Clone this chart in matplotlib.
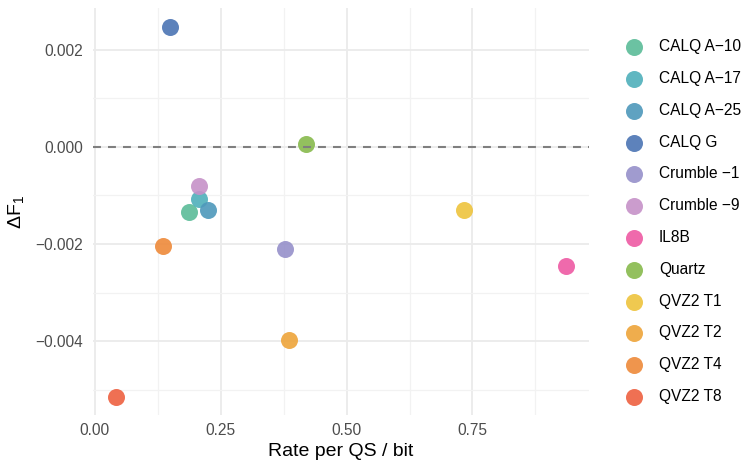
import matplotlib
matplotlib.use("Agg")
import matplotlib.pyplot as plt
from matplotlib.ticker import MultipleLocator, FuncFormatter

plt.rcParams['font.family'] = ['Liberation Sans', 'DejaVu Sans']
plt.rcParams['mathtext.fontset'] = 'custom'
plt.rcParams['mathtext.rm'] = 'Liberation Sans'
plt.rcParams['mathtext.it'] = 'Liberation Sans'

# codec variants, rate per quality score and change in F1
codecs = ['CALQ A\u221210', 'CALQ A\u221217', 'CALQ A\u221225', 'CALQ G',
          'Crumble \u22121', 'Crumble \u22129', 'IL8B', 'Quartz',
          'QVZ2 T1', 'QVZ2 T2', 'QVZ2 T4', 'QVZ2 T8']
rate = [0.186, 0.206, 0.225, 0.149, 0.378, 0.207, 0.936, 0.419,
        0.733, 0.385, 0.135, 0.041]
delta_f1 = [-0.00134, -0.00107, -0.00130, 0.00247, -0.00210, -0.00080,
            -0.00245, 0.00006, -0.00130, -0.00397, -0.00204, -0.00514]
colors = ['#5BBC98', '#4FB0BB', '#4E98BB', '#4B74B4', '#9690CA', '#C691C8',
          '#EE5AA3', '#87BA4C', '#EEC33D', '#EEA43A', '#EE8A3A', '#EE6040']

fig = plt.figure(figsize=(7.49, 4.65), dpi=100)
ax = fig.add_axes([0.124, 0.1075, 0.662, 0.8745])

for name, x, y, c in zip(codecs, rate, delta_f1, colors):
    ax.scatter(x, y, s=150, color=c, alpha=0.9, linewidths=0, label=name, zorder=3)

# reference line at zero, drawn over the points
ax.axhline(0, color='#7F7F7F', lw=1.5, dashes=(3.8, 3.4), zorder=4)

ax.set_xlim(-0.004, 0.981)
ax.set_ylim(-0.00552, 0.00285)

ax.xaxis.set_major_locator(MultipleLocator(0.25))
ax.xaxis.set_minor_locator(MultipleLocator(0.125))
ax.yaxis.set_major_locator(MultipleLocator(0.002))
ax.yaxis.set_minor_locator(MultipleLocator(0.001))
ax.xaxis.set_major_formatter(FuncFormatter(lambda v, p: f'{v:.2f}'.replace('-', '\u2212')))
ax.yaxis.set_major_formatter(FuncFormatter(lambda v, p: f'{v:.3f}'.replace('-', '\u2212')))

ax.grid(which='major', color='#EBEBEB', lw=1.3, zorder=0)
ax.grid(which='minor', color='#F2F2F2', lw=0.9, zorder=0)
ax.set_axisbelow(True)
for s in ax.spines.values():
    s.set_visible(False)
ax.tick_params(which='both', length=0, labelsize=11.2, labelcolor='#4D4D4D')
ax.tick_params(axis='y', pad=7)
ax.tick_params(axis='x', pad=6)

ax.set_xlabel('Rate per QS / bit', fontsize=14, labelpad=3)
ax.set_ylabel(r'$\mathregular{\Delta F_1}$', fontsize=14, labelpad=7)

leg = ax.legend(loc='upper left', bbox_to_anchor=(0.817, 0.929),
                bbox_transform=fig.transFigure, frameon=False,
                fontsize=11.2, labelspacing=1.08, handletextpad=0.62,
                borderaxespad=0, markerscale=1.0)

fig.savefig('out.png', dpi=100, facecolor='white')
